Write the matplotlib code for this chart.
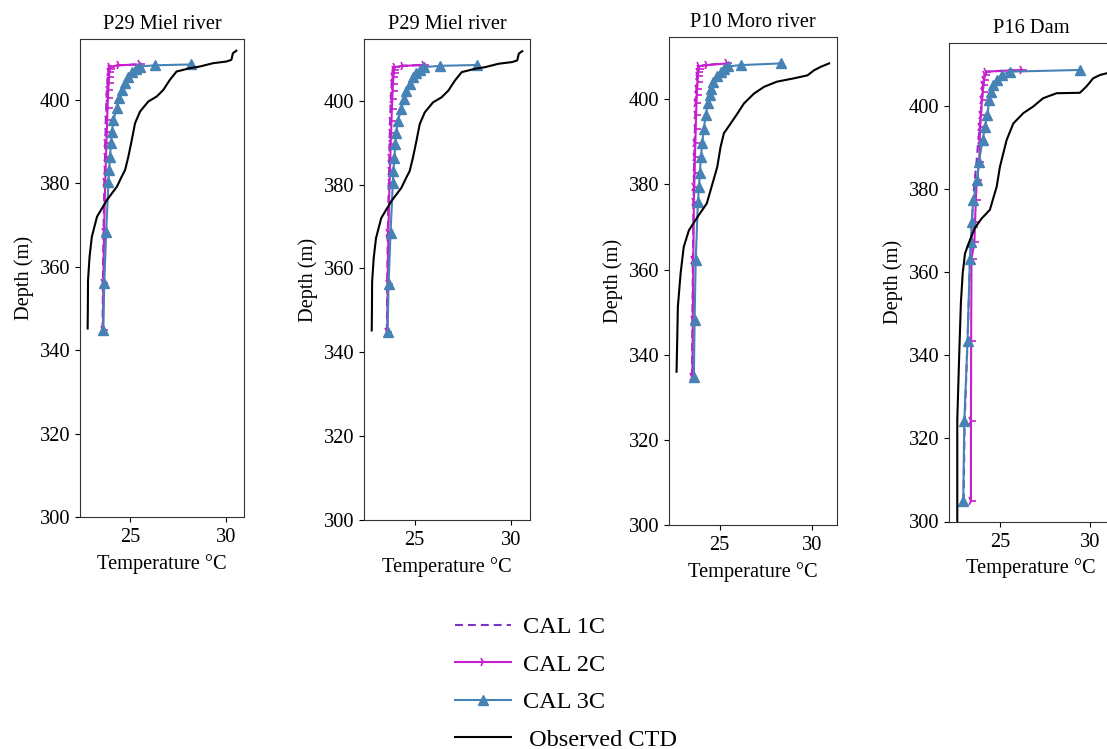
import matplotlib
matplotlib.use("Agg")
import matplotlib.pyplot as plt

plt.rcParams['font.family'] = ['Liberation Serif', 'DejaVu Sans']

# ---------------- data ----------------
station_titles = ["P29 Miel river", "P29 Miel river", "P10 Moro river", "P16 Dam"]
series_labels = ["CAL 1C", "CAL 2C", "CAL 3C", " Observed CTD"]
temp_ticks = [25, 30]
depth_ticks = [300, 320, 340, 360, 380, 400]

# P29 Miel river
p29_ctd_depth = [345.2, 350.0, 356.8, 362.4, 367.2, 372.0, 376.0, 379.2, 381.5, 383.2,
                 386.4, 390.4, 394.4, 397.2, 399.6, 400.8, 402.4, 404.8, 406.8, 407.6,
                 408.0, 408.8, 409.2, 409.6, 411.2, 411.8]
p29_ctd_temp = [22.78, 22.79, 22.80, 22.88, 23.00, 23.27, 23.79, 24.31, 24.55, 24.74,
                24.91, 25.09, 25.26, 25.52, 25.95, 26.39, 26.74, 27.08, 27.43, 28.12,
                28.65, 29.34, 30.04, 30.30, 30.38, 30.56]
p29_model_depth = [344.8, 356.2, 368.4, 380.4, 383.2, 386.4, 389.6, 392.4, 395.2, 398.0,
                   400.4, 402.4, 404.0, 405.6, 406.6, 407.4, 408.0, 408.3, 408.5]
p29_cal1 = [23.56, 23.58, 23.61, 23.66, 23.68, 23.69, 23.70, 23.72, 23.73, 23.75,
            23.77, 23.79, 23.81, 23.83, 23.85, 23.87, 23.90, 24.30, 25.30]
p29_cal2 = [23.58, 23.60, 23.64, 23.70, 23.72, 23.74, 23.76, 23.78, 23.80, 23.82,
            23.84, 23.86, 23.88, 23.90, 23.92, 23.94, 23.97, 24.40, 25.50]
p29_cal3 = [23.60, 23.65, 23.75, 23.87, 23.90, 23.95, 24.00, 24.05, 24.13, 24.31,
            24.44, 24.57, 24.74, 24.91, 25.09, 25.30, 25.50, 26.30, 28.20]

# P10 Moro river
p10_ctd_depth = [336.0, 344.2, 351.2, 359.1, 365.3, 369.2, 372.8, 375.5, 378.5, 381.5,
                 384.1, 388.8, 392.0, 394.3, 396.6, 399.0, 401.3, 402.9, 404.1, 404.9,
                 405.6, 406.8, 407.6, 408.4]
p10_ctd_temp = [22.66, 22.70, 22.73, 22.88, 23.05, 23.33, 23.87, 24.30, 24.50, 24.70,
                24.87, 25.05, 25.23, 25.60, 25.96, 26.32, 26.86, 27.41, 28.10, 29.04,
                29.77, 30.13, 30.49, 30.94]
p10_model_depth = [334.8, 348.1, 362.2, 375.9, 379.4, 382.6, 386.5, 389.6, 393.1, 396.2,
                   399.0, 400.9, 402.5, 404.1, 405.4, 406.4, 407.2, 407.7, 408.0, 408.4]
p10_cal1 = [23.50, 23.52, 23.55, 23.58, 23.60, 23.61, 23.62, 23.64, 23.66, 23.68,
            23.70, 23.72, 23.74, 23.76, 23.78, 23.80, 23.82, 23.84, 24.20, 25.20]
p10_cal2 = [23.52, 23.54, 23.57, 23.60, 23.62, 23.64, 23.66, 23.68, 23.70, 23.72,
            23.74, 23.76, 23.78, 23.80, 23.82, 23.84, 23.86, 23.88, 24.30, 25.42]
p10_cal3 = [23.60, 23.64, 23.70, 23.82, 23.88, 23.92, 23.99, 24.05, 24.14, 24.24,
            24.36, 24.47, 24.55, 24.66, 24.87, 25.05, 25.23, 25.45, 26.14, 28.32]

# P16 Dam
p16_ctd_depth = [296.0, 324.5, 340.5, 352.6, 359.8, 364.6, 367.8, 370.7, 373.0, 375.1,
                 380.7, 385.5, 391.9, 395.9, 398.4, 400.0, 402.0, 403.2, 403.3, 404.8,
                 406.8, 407.6, 408.0, 408.4]
p16_ctd_temp = [22.63, 22.63, 22.74, 22.83, 22.93, 23.06, 23.33, 23.60, 23.98, 24.44,
                24.82, 25.00, 25.37, 25.74, 26.30, 26.85, 27.40, 28.15, 29.44, 29.80,
                30.18, 30.56, 30.93, 31.20]
p16_model_depth = [304.9, 324.2, 343.6, 363.2, 367.4, 372.2, 377.5, 382.3, 386.7, 391.9,
                   395.1, 398.0, 401.6, 403.6, 405.2, 406.4, 407.6, 408.4, 408.8]
p16_cal1 = [22.98, 23.04, 23.20, 23.34, 23.40, 23.45, 23.50, 23.60, 23.70, 23.80,
            23.88, 23.94, 24.00, 24.04, 24.08, 24.10, 24.13, 24.30, 25.80]
p16_cal2 = [23.39, 23.39, 23.40, 23.42, 23.58, 23.62, 23.66, 23.72, 23.85, 23.88,
            23.90, 23.94, 24.00, 24.05, 24.08, 24.12, 24.17, 24.25, 26.20]
p16_cal3 = [22.96, 23.02, 23.20, 23.33, 23.39, 23.43, 23.52, 23.74, 23.83, 24.04,
            24.17, 24.30, 24.41, 24.50, 24.63, 24.82, 25.09, 25.56, 29.44]

panels = [
    (p29_ctd_depth, p29_ctd_temp, p29_model_depth, p29_cal1, p29_cal2, p29_cal3),
    (p29_ctd_depth, p29_ctd_temp, p29_model_depth, p29_cal1, p29_cal2, p29_cal3),
    (p10_ctd_depth, p10_ctd_temp, p10_model_depth, p10_cal1, p10_cal2, p10_cal3),
    (p16_ctd_depth, p16_ctd_temp, p16_model_depth, p16_cal1, p16_cal2, p16_cal3),
]

# ---------------- layout ----------------
W, H = 1107, 749
fig = plt.figure(figsize=(W / 100, H / 100), dpi=100)


def box(left, top, right, bottom):
    return [left / W, 1 - bottom / H, (right - left) / W, (bottom - top) / H]


axes_boxes = [box(80, 39, 244, 517), box(364, 39, 530, 520),
              box(669, 37, 837, 525), box(949, 43, 1113, 521.5)]
x_limits = [(22.38, 30.96), (22.38, 30.96), (22.25, 31.37), (22.17, 31.28)]
y_limits = [(300, 414.6), (300, 414.7), (300, 414.6), (300, 415.3)]

FS = 14.7
c1, c2, c3 = '#7b35c0', '#c81ecf', '#4682b4'

handles = None
for i, (ctd_d, ctd_t, mod_d, cal1, cal2, cal3) in enumerate(panels):
    ax = fig.add_axes(axes_boxes[i])
    h1, = ax.plot(cal1, mod_d, '--', color=c1, lw=1.5, dashes=(3.8, 2.4))
    h2, = ax.plot(cal2, mod_d, '-', color=c2, lw=1.5, marker='4', ms=7, mew=1.2)
    h3, = ax.plot(cal3, mod_d, '-', color=c3, lw=1.5, marker='^', ms=7)
    h4, = ax.plot(ctd_t, ctd_d, '-', color='black', lw=1.5)
    if handles is None:
        handles = [h1, h2, h3, h4]
    ax.set_xlim(*x_limits[i])
    ax.set_ylim(*y_limits[i])
    ax.set_xticks(temp_ticks)
    ax.set_yticks(depth_ticks)
    ax.tick_params(labelsize=FS)
    ax.tick_params(axis='x', pad=4.5)
    ax.set_title(station_titles[i], fontsize=FS, pad=7)
    ax.set_xlabel("Temperature °C", fontsize=FS, labelpad=5)
    ax.set_ylabel("Depth (m)", fontsize=FS)
    for s in ax.spines.values():
        s.set_color('#333333')

fig.legend(handles, series_labels, loc='upper left',
           bbox_to_anchor=(455 / W, 1 - 616 / H), frameon=False,
           fontsize=17.5, borderpad=0, borderaxespad=0,
           handlelength=2.3, handletextpad=0.5, labelspacing=0.64)

fig.savefig("out.png", dpi=100)
